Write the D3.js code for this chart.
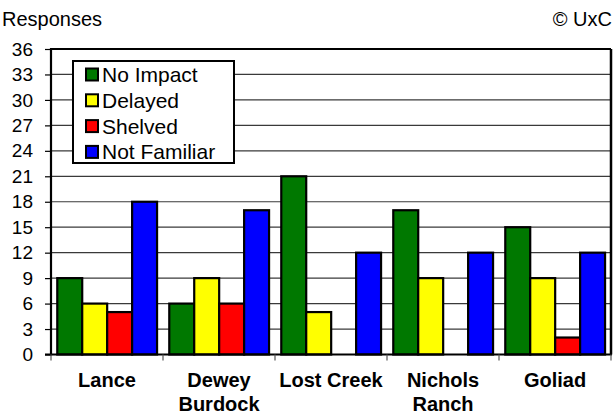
<!DOCTYPE html>
<html>
<head>
<meta charset="utf-8">
<script src="https://cdn.jsdelivr.net/npm/d3@7"></script>
<style>
  html, body { margin: 0; padding: 0; background: #fff; }
  svg { display: block; font-family: "Liberation Sans", Arial, sans-serif; }
</style>
</head>
<body>
<svg id="chart" width="615" height="411"></svg>
<script>
// Survey responses per project
const projects = [["Lance"], ["Dewey", "Burdock"], ["Lost Creek"], ["Nichols", "Ranch"], ["Goliad"]];
const seriesNames = ["No Impact", "Delayed", "Shelved", "Not Familiar"];
const seriesColors = ["#007800", "#ffff00", "#ff0000", "#0000ff"];
const noImpact    = [9, 6, 21, 17, 15];
const delayed     = [6, 9, 5, 9, 9];
const shelved     = [5, 6, 0, 0, 2];
const notFamiliar = [18, 17, 12, 12, 12];
const yTicks = [0, 3, 6, 9, 12, 15, 18, 21, 24, 27, 30, 33, 36];

const seriesValues = [noImpact, delayed, shelved, notFamiliar];
const keys = projects.map(p => p.join(" "));

const svg = d3.select("#chart");
const plotL = 51, plotR = 611, plotT = 49, plotB = 354.5;

const x0 = d3.scaleBand().domain(keys).range([plotL, plotR]).padding(0);
const bw = x0.bandwidth();
const x1 = d3.scaleBand().domain(seriesNames).range([bw * 0.056, bw * 0.947]).padding(0);
const y = d3.scaleLinear().domain([0, 36]).range([plotB, plotT]);

// title (sits mostly above the visible area)
svg.append("text")
  .attr("x", 168).attr("y", -5.5)
  .attr("font-size", 24).attr("font-weight", "bold")
  .text("Effect on project timelines");

svg.append("text").attr("x", 2).attr("y", 26).attr("font-size", 20).text("Responses");
svg.append("text").attr("x", 612).attr("y", 26).attr("font-size", 20)
  .attr("text-anchor", "end").text("© UxC");

// horizontal gridlines
svg.append("g").selectAll("line")
  .data(yTicks.filter(t => t > 0 && t < 36))
  .join("line")
  .attr("x1", plotL).attr("x2", plotR)
  .attr("y1", d => y(d)).attr("y2", d => y(d))
  .attr("stroke", "#3a3a3a").attr("stroke-width", 1.2);

// y axis
const yAxis = svg.append("g")
  .attr("transform", `translate(${plotL},0)`)
  .call(d3.axisLeft(y).tickValues(yTicks).tickSize(6).tickPadding(12));
yAxis.select(".domain").remove();
yAxis.selectAll(".tick line").attr("stroke", "#000").attr("stroke-width", 1.2);
yAxis.selectAll(".tick text")
  .attr("font-family", "Liberation Sans, Arial, sans-serif")
  .attr("font-size", 19).attr("fill", "#000");

// bars
const groups = svg.append("g").selectAll("g")
  .data(keys)
  .join("g")
  .attr("transform", d => `translate(${x0(d)},0)`);

groups.selectAll("rect")
  .data((d, i) => seriesNames.map((s, j) => ({ s, j, v: seriesValues[j][i] })).filter(e => e.v > 0))
  .join("rect")
  .attr("x", d => x1(d.s))
  .attr("width", x1.bandwidth())
  .attr("y", d => y(d.v))
  .attr("height", d => y(0) - y(d.v))
  .attr("fill", d => seriesColors[d.j])
  .attr("stroke", "#000").attr("stroke-width", 2.2);

// plot frame
svg.append("line").attr("x1", plotL).attr("x2", plotR).attr("y1", plotT).attr("y2", plotT)
  .attr("stroke", "#000").attr("stroke-width", 2);
svg.append("line").attr("x1", plotR).attr("x2", plotR).attr("y1", plotT).attr("y2", plotB)
  .attr("stroke", "#000").attr("stroke-width", 2.5);
svg.append("line").attr("x1", plotL).attr("x2", plotL).attr("y1", plotT - 1).attr("y2", plotB + 1)
  .attr("stroke", "#000").attr("stroke-width", 2.2);

// x axis
const xAxis = svg.append("g")
  .attr("transform", `translate(0,${plotB})`)
  .call(d3.axisBottom(x0).tickSize(0).tickFormat(""));
xAxis.select(".domain").remove();
svg.append("line").attr("x1", plotL - 6).attr("x2", plotR + 1).attr("y1", plotB).attr("y2", plotB)
  .attr("stroke", "#000").attr("stroke-width", 2.2);
svg.append("g").selectAll("line")
  .data(d3.range(keys.length + 1))
  .join("line")
  .attr("x1", i => i < keys.length ? x0(keys[i]) : plotR)
  .attr("x2", i => i < keys.length ? x0(keys[i]) : plotR)
  .attr("y1", plotB).attr("y2", plotB + 6)
  .attr("stroke", "#555").attr("stroke-width", 1.2);

// category labels
const cat = svg.append("g").selectAll("text")
  .data(projects)
  .join("text")
  .attr("x", (d, i) => x0(keys[i]) + bw / 2)
  .attr("y", 387)
  .attr("text-anchor", "middle")
  .attr("font-size", 20).attr("font-weight", "bold");
cat.selectAll("tspan")
  .data(d => d)
  .join("tspan")
  .attr("x", function () { return d3.select(this.parentNode).attr("x"); })
  .attr("dy", (d, i) => i === 0 ? 0 : 23.5)
  .text(d => d);

// legend
const lg = svg.append("g");
lg.append("rect").attr("x", 73).attr("y", 61).attr("width", 161).attr("height", 102)
  .attr("fill", "#fff").attr("stroke", "#000").attr("stroke-width", 2);
const items = lg.selectAll("g.item")
  .data(seriesNames)
  .join("g").attr("class", "item")
  .attr("transform", (d, i) => `translate(86,${74.5 + i * 25.8})`);
items.append("rect").attr("x", 0).attr("y", -6).attr("width", 12).attr("height", 12)
  .attr("fill", (d, i) => seriesColors[i]).attr("stroke", "#000").attr("stroke-width", 2);
items.append("text").attr("x", 16).attr("y", 7.5).attr("font-size", 21).text(d => d);
</script>
</body>
</html>
